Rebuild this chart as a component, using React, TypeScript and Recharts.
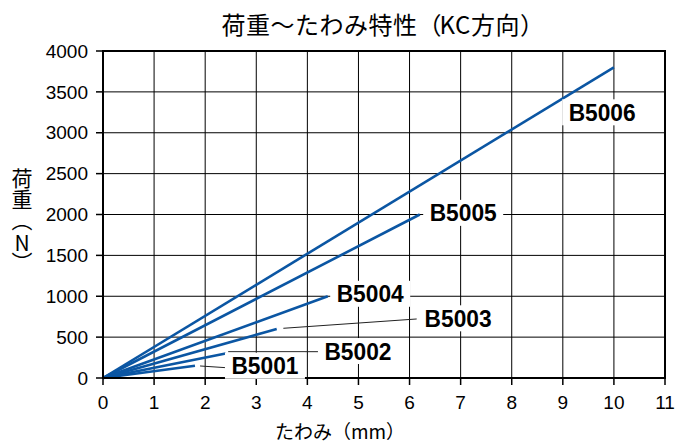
import React from "react";
import {
  LineChart,
  Line,
  XAxis,
  YAxis,
  CartesianGrid,
  ReferenceLine,
  ReferenceDot,
  ReferenceArea,
} from "recharts";

// series: straight line from origin to end point
const seriesNames = ["B5001", "B5002", "B5003", "B5004", "B5005", "B5006"];
const endDeflection = [1.8, 2.4, 3.4, 4.4, 6.2, 10];
const endLoad = [150, 300, 600, 1000, 2000, 3800];

// label anchors (data coords)
const labelX = [3.17, 4.99, 6.95, 5.23, 7.05, 9.77];
const labelY = [150, 330, 730, 1030, 2020, 3250];

// leader lines [x1, y1, x2, y2]
const leaders = [
  [1.9, 147, 2.41, 126],
  [2.45, 322, 4.21, 322],
  [3.53, 608, 6.14, 722],
];

const xTicks = [0, 1, 2, 3, 4, 5, 6, 7, 8, 9, 10, 11];
const yTicks = [0, 500, 1000, 1500, 2000, 2500, 3000, 3500, 4000];

const BLUE = "#0b56a3";
const NUM_FONT = "'Liberation Sans', Arial, sans-serif";
const JP_FONT = "'Noto Sans CJK JP', sans-serif";

const LabelBox = (props: any) => {
  const { cx, cy, text } = props;
  return (
    <g>
      <rect x={cx - 40} y={cy - 13} width={80} height={26} fill="#fff" />
      <text
        x={cx}
        y={cy}
        textAnchor="middle"
        dominantBaseline="central"
        fontFamily={NUM_FONT}
        fontWeight={700}
        fontSize={24}
        textLength={67}
        lengthAdjust="spacingAndGlyphs"
        fill="#000"
      >
        {text}
      </text>
    </g>
  );
};

export default function App() {
  const series = seriesNames.map((name, i) => ({
    name,
    data: [
      { x: 0, y: 0 },
      { x: endDeflection[i], y: endLoad[i] },
    ],
  }));

  const tickStyle = { fill: "#000", fontSize: 19, fontFamily: NUM_FONT };

  return (
    <div style={{ position: "absolute", left: 0, top: 0, width: 677, height: 446, background: "#fff", overflow: "hidden" }}>
      <div
        style={{
          position: "absolute",
          top: 9,
          left: 0,
          width: 766,
          textAlign: "center",
          fontFamily: JP_FONT,
          fontSize: 24,
          lineHeight: "30px",
          letterSpacing: 0.5,
          color: "#000",
        }}
      >
        荷重～たわみ特性<span style={{ letterSpacing: -2 }}>（</span>KC方向<span>）</span>
      </div>
      <div
        style={{
          position: "absolute",
          top: 168,
          left: 10,
          writingMode: "vertical-rl",
          fontFamily: JP_FONT,
          fontSize: 21,
          lineHeight: "24px",
          color: "#000",
        }}
      >
        荷重（<span style={{ textCombineUpright: "all" }}>N</span>）
      </div>
      <div
        style={{
          position: "absolute",
          top: 419,
          left: 240,
          width: 200,
          textAlign: "center",
          fontFamily: JP_FONT,
          fontSize: 19,
          lineHeight: "24px",
          color: "#000",
        }}
      >
        たわみ（mm）
      </div>
      <LineChart
        width={677}
        height={446}
        margin={{ top: 51, right: 12, left: 0, bottom: 0 }}
        style={{ position: "absolute", left: 0, top: 0 }}
      >
        <CartesianGrid stroke="#000" strokeWidth={1} />
        <XAxis
          type="number"
          dataKey="x"
          domain={[0, 11]}
          ticks={xTicks}
          interval={0}
          height={68}
          tickSize={7}
          tickMargin={11}
          tick={tickStyle}
          axisLine={{ stroke: "#000", strokeWidth: 2 }}
          tickLine={{ stroke: "#000", strokeWidth: 1.5 }}
          allowDuplicatedCategory={false}
        />
        <YAxis
          type="number"
          domain={[0, 4000]}
          ticks={yTicks}
          interval={0}
          width={103}
          tickSize={7}
          tickMargin={8}
          tick={tickStyle}
          axisLine={{ stroke: "#000", strokeWidth: 2 }}
          tickLine={{ stroke: "#000", strokeWidth: 1.5 }}
        />
        <ReferenceArea x1={0} x2={11} y1={0} y2={4000} fill="none" stroke="#000" strokeWidth={2} />
        {leaders.map((s, i) => (
          <ReferenceLine
            key={"l" + i}
            segment={[
              { x: s[0], y: s[1] },
              { x: s[2], y: s[3] },
            ]}
            stroke="#222"
            strokeWidth={1}
          />
        ))}
        {seriesNames.map((name, i) => (
          <ReferenceDot
            key={"d" + i}
            x={labelX[i]}
            y={labelY[i]}
            r={0}
            shape={(p: any) => <LabelBox cx={p.cx} cy={p.cy} text={name} />}
          />
        ))}
        {series.map((s) => (
          <Line
            key={s.name}
            data={s.data}
            dataKey="y"
            type="linear"
            stroke={BLUE}
            strokeWidth={2.6}
            dot={false}
            isAnimationActive={false}
          />
        ))}
      </LineChart>
    </div>
  );
}
